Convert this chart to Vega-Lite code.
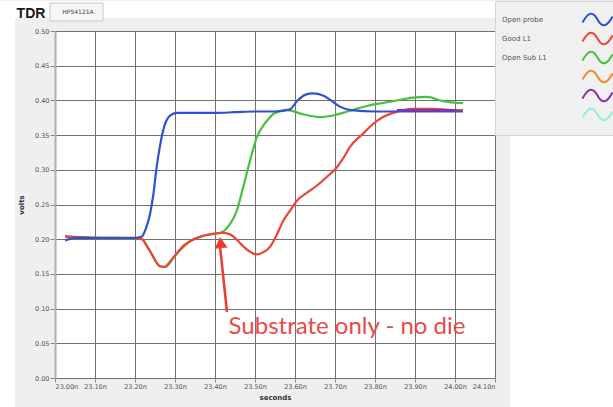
{
  "$schema": "https://vega.github.io/schema/vega-lite/v6.json",
  "width": 440,
  "height": 347,
  "padding": 0,
  "background": "#efefef",
  "config": {
    "view": {"fill": "white", "stroke": null},
    "font": "DejaVu Sans"
  },
  "data": {"values": [{}]},
  "datasets": {
    "traces": [
      {"series": "Open Sub L1", "t": 23.025, "v": 0.204},
      {"series": "Open Sub L1", "t": 23.10, "v": 0.202},
      {"series": "Open Sub L1", "t": 23.20, "v": 0.201},
      {"series": "Open Sub L1", "t": 23.217, "v": 0.200},
      {"series": "Open Sub L1", "t": 23.2375, "v": 0.183},
      {"series": "Open Sub L1", "t": 23.2625, "v": 0.161},
      {"series": "Open Sub L1", "t": 23.275, "v": 0.160},
      {"series": "Open Sub L1", "t": 23.304, "v": 0.179},
      {"series": "Open Sub L1", "t": 23.3375, "v": 0.197},
      {"series": "Open Sub L1", "t": 23.379, "v": 0.206},
      {"series": "Open Sub L1", "t": 23.4167, "v": 0.210},
      {"series": "Open Sub L1", "t": 23.4375, "v": 0.222},
      {"series": "Open Sub L1", "t": 23.454, "v": 0.240},
      {"series": "Open Sub L1", "t": 23.47, "v": 0.274},
      {"series": "Open Sub L1", "t": 23.4875, "v": 0.313},
      {"series": "Open Sub L1", "t": 23.504, "v": 0.346},
      {"series": "Open Sub L1", "t": 23.529, "v": 0.370},
      {"series": "Open Sub L1", "t": 23.55, "v": 0.382},
      {"series": "Open Sub L1", "t": 23.58, "v": 0.386},
      {"series": "Open Sub L1", "t": 23.62, "v": 0.380},
      {"series": "Open Sub L1", "t": 23.6625, "v": 0.376},
      {"series": "Open Sub L1", "t": 23.70, "v": 0.379},
      {"series": "Open Sub L1", "t": 23.72, "v": 0.382},
      {"series": "Open Sub L1", "t": 23.779, "v": 0.392},
      {"series": "Open Sub L1", "t": 23.8375, "v": 0.398},
      {"series": "Open Sub L1", "t": 23.895, "v": 0.404},
      {"series": "Open Sub L1", "t": 23.93, "v": 0.405},
      {"series": "Open Sub L1", "t": 23.97, "v": 0.399},
      {"series": "Open Sub L1", "t": 24.02, "v": 0.396},
      {"series": "Good L1", "t": 23.025, "v": 0.204},
      {"series": "Good L1", "t": 23.05, "v": 0.203},
      {"series": "Good L1", "t": 23.10, "v": 0.202},
      {"series": "Good L1", "t": 23.15, "v": 0.202},
      {"series": "Good L1", "t": 23.20, "v": 0.201},
      {"series": "Good L1", "t": 23.217, "v": 0.200},
      {"series": "Good L1", "t": 23.2275, "v": 0.192},
      {"series": "Good L1", "t": 23.2375, "v": 0.183},
      {"series": "Good L1", "t": 23.25, "v": 0.170},
      {"series": "Good L1", "t": 23.2625, "v": 0.161},
      {"series": "Good L1", "t": 23.275, "v": 0.160},
      {"series": "Good L1", "t": 23.2875, "v": 0.168},
      {"series": "Good L1", "t": 23.304, "v": 0.179},
      {"series": "Good L1", "t": 23.32, "v": 0.190},
      {"series": "Good L1", "t": 23.3375, "v": 0.197},
      {"series": "Good L1", "t": 23.36, "v": 0.203},
      {"series": "Good L1", "t": 23.379, "v": 0.206},
      {"series": "Good L1", "t": 23.40, "v": 0.208},
      {"series": "Good L1", "t": 23.4167, "v": 0.209},
      {"series": "Good L1", "t": 23.4375, "v": 0.207},
      {"series": "Good L1", "t": 23.455, "v": 0.199},
      {"series": "Good L1", "t": 23.47, "v": 0.190},
      {"series": "Good L1", "t": 23.49, "v": 0.181},
      {"series": "Good L1", "t": 23.504, "v": 0.178},
      {"series": "Good L1", "t": 23.52, "v": 0.181},
      {"series": "Good L1", "t": 23.5375, "v": 0.189},
      {"series": "Good L1", "t": 23.555, "v": 0.207},
      {"series": "Good L1", "t": 23.57, "v": 0.226},
      {"series": "Good L1", "t": 23.59, "v": 0.243},
      {"series": "Good L1", "t": 23.604, "v": 0.255},
      {"series": "Good L1", "t": 23.63, "v": 0.267},
      {"series": "Good L1", "t": 23.654, "v": 0.277},
      {"series": "Good L1", "t": 23.68, "v": 0.290},
      {"series": "Good L1", "t": 23.704, "v": 0.303},
      {"series": "Good L1", "t": 23.72, "v": 0.316},
      {"series": "Good L1", "t": 23.7375, "v": 0.333},
      {"series": "Good L1", "t": 23.77, "v": 0.352},
      {"series": "Good L1", "t": 23.795, "v": 0.366},
      {"series": "Good L1", "t": 23.82, "v": 0.376},
      {"series": "Good L1", "t": 23.845, "v": 0.382},
      {"series": "Good L1", "t": 23.87, "v": 0.386},
      {"series": "Good L1", "t": 23.895, "v": 0.388},
      {"series": "Good L1", "t": 23.945, "v": 0.388},
      {"series": "Good L1", "t": 23.995, "v": 0.386},
      {"series": "Good L1", "t": 24.02, "v": 0.386},
      {"series": "Open probe", "t": 23.025, "v": 0.198},
      {"series": "Open probe", "t": 23.05, "v": 0.202},
      {"series": "Open probe", "t": 23.10, "v": 0.202},
      {"series": "Open probe", "t": 23.15, "v": 0.202},
      {"series": "Open probe", "t": 23.20, "v": 0.202},
      {"series": "Open probe", "t": 23.217, "v": 0.204},
      {"series": "Open probe", "t": 23.2275, "v": 0.216},
      {"series": "Open probe", "t": 23.2375, "v": 0.236},
      {"series": "Open probe", "t": 23.246, "v": 0.265},
      {"series": "Open probe", "t": 23.254, "v": 0.303},
      {"series": "Open probe", "t": 23.262, "v": 0.333},
      {"series": "Open probe", "t": 23.27, "v": 0.356},
      {"series": "Open probe", "t": 23.2875, "v": 0.378},
      {"series": "Open probe", "t": 23.304, "v": 0.382},
      {"series": "Open probe", "t": 23.35, "v": 0.382},
      {"series": "Open probe", "t": 23.40, "v": 0.382},
      {"series": "Open probe", "t": 23.45, "v": 0.383},
      {"series": "Open probe", "t": 23.50, "v": 0.384},
      {"series": "Open probe", "t": 23.55, "v": 0.384},
      {"series": "Open probe", "t": 23.5875, "v": 0.387},
      {"series": "Open probe", "t": 23.605, "v": 0.399},
      {"series": "Open probe", "t": 23.625, "v": 0.408},
      {"series": "Open probe", "t": 23.645, "v": 0.410},
      {"series": "Open probe", "t": 23.67, "v": 0.407},
      {"series": "Open probe", "t": 23.69, "v": 0.400},
      {"series": "Open probe", "t": 23.7125, "v": 0.391},
      {"series": "Open probe", "t": 23.74, "v": 0.386},
      {"series": "Open probe", "t": 23.80, "v": 0.384},
      {"series": "Open probe", "t": 23.85, "v": 0.384},
      {"series": "Open probe", "t": 23.90, "v": 0.384},
      {"series": "Open probe", "t": 23.95, "v": 0.384},
      {"series": "Open probe", "t": 24.02, "v": 0.384},
      {"series": "Series 5", "t": 23.855, "v": 0.386},
      {"series": "Series 5", "t": 23.93, "v": 0.386},
      {"series": "Series 5", "t": 24.005, "v": 0.386}
    ]
  },
  "layer": [
    {
      "data": {"name": "traces"},
      "mark": {"type": "line", "strokeWidth": 2.2, "interpolate": "monotone"},
      "encoding": {
        "x": {
          "field": "t",
          "type": "quantitative",
          "scale": {"domain": [23.0, 24.1], "nice": false, "zero": false},
          "axis": {
            "title": "seconds",
            "grid": true,
            "labelOverlap": false,
            "tickCount": 40,
            "values": [23.0, 23.1, 23.2, 23.3, 23.4, 23.5, 23.6, 23.7, 23.8, 23.9, 24.0, 24.1],
            "labelExpr": "format(datum.value, '.2f') + 'n'",
            "labelFontSize": 6.5,
            "labelColor": "#555",
            "labelPadding": 1,
            "tickSize": 4,
            "tickColor": "#888",
            "domain": false,
            "gridColor": "#707070",
            "gridWidth": 1,
            "gridOpacity": 1,
            "titleFontSize": 7,
            "titleFontWeight": "bold",
            "titleColor": "#333",
            "titlePadding": 4
          }
        },
        "y": {
          "field": "v",
          "type": "quantitative",
          "scale": {"domain": [0, 0.5], "nice": false, "zero": false},
          "axis": {
            "title": "volts",
            "grid": true,
            "labelOverlap": false,
            "tickCount": 40,
            "values": [0, 0.05, 0.1, 0.15, 0.2, 0.25, 0.3, 0.35, 0.4, 0.45, 0.5],
            "format": ".2f",
            "labelFontSize": 6.5,
            "labelColor": "#555",
            "labelPadding": 1,
            "tickSize": 5,
            "tickColor": "#888",
            "domainColor": "#b0b0b0",
            "domainWidth": 2,
            "gridColor": "#707070",
            "gridWidth": 1,
            "gridOpacity": 1,
            "titleFontSize": 7,
            "titleFontWeight": "bold",
            "titleColor": "#333",
            "titlePadding": 10
          }
        },
        "color": {
          "field": "series",
          "type": "nominal",
          "scale": {
            "domain": ["Open probe", "Good L1", "Open Sub L1", "Series 4", "Series 5", "Series 6"],
            "range": ["#3050d4", "#ee4436", "#46c03e", "#f08a2c", "#8a30a8", "#8ff0dc"]
          },
          "legend": {
            "title": null,
            "orient": "none",
            "legendX": 440,
            "legendY": -30,
            "padding": 10,
            "fillColor": "#f0f0f0",
            "strokeColor": "#d4d4d4",
            "symbolType": "M-2,0.4C-1.2,-1.1 -0.6,-1.1 0,0 C0.6,1.1 1.2,1.1 2,-0.4",
            "symbolSize": 225,
            "symbolStrokeWidth": 2,
            "symbolFillColor": "transparent",
            "symbolOffset": 84,
            "labelOffset": -104,
            "labelAlign": "left",
            "labelFontSize": 7,
            "labelColor": "#555",
            "rowPadding": -3.5,
            "labelExpr": "indexof(datum.label, 'Series') == 0 ? '' : datum.label"
          }
        }
      }
    },
    {
      "mark": {"type": "rect", "fill": "white", "clip": false},
      "encoding": {
        "x": {"datum": 22.8625, "type": "quantitative"},
        "x2": {"datum": 24.4325},
        "y": {"datum": 0.5187, "type": "quantitative"},
        "y2": {"datum": 0.5432}
      }
    },
    {
      "mark": {"type": "rect", "fill": "white", "clip": false},
      "encoding": {
        "x": {"datum": 22.8625, "type": "quantitative"},
        "x2": {"datum": 22.9},
        "y": {"datum": -0.0432, "type": "quantitative"},
        "y2": {"datum": 0.5432}
      }
    },
    {
      "mark": {"type": "rect", "fill": "white", "clip": false},
      "encoding": {
        "x": {"datum": 24.1375, "type": "quantitative"},
        "x2": {"datum": 24.4325},
        "y": {"datum": -0.0432, "type": "quantitative"},
        "y2": {"datum": 0.5432}
      }
    },
    {
      "mark": {"type": "rect", "fill": "#f6f6f6", "stroke": "#c8c8c8", "strokeWidth": 1, "clip": false},
      "encoding": {
        "x": {"datum": 22.9875, "type": "quantitative"},
        "x2": {"datum": 23.12},
        "y": {"datum": 0.5144, "type": "quantitative"},
        "y2": {"datum": 0.5403}
      }
    },
    {
      "mark": {"type": "text", "text": "TDR", "fontSize": 14, "fontWeight": "bold", "font": "Liberation Sans", "color": "#1a1a1a", "baseline": "alphabetic", "align": "center", "clip": false},
      "encoding": {
        "x": {"datum": 22.94, "type": "quantitative"},
        "y": {"datum": 0.5187, "type": "quantitative"}
      }
    },
    {
      "mark": {"type": "text", "text": "HP54121A", "fontSize": 6, "color": "#444", "baseline": "middle", "align": "center", "clip": false},
      "encoding": {
        "x": {"datum": 23.0575, "type": "quantitative"},
        "y": {"datum": 0.527, "type": "quantitative"}
      }
    },
    {
      "mark": {"type": "rule", "color": "#f03a30", "strokeWidth": 2.5},
      "encoding": {
        "x": {"datum": 23.43, "type": "quantitative"},
        "y": {"datum": 0.0951, "type": "quantitative"},
        "x2": {"datum": 23.4125},
        "y2": {"datum": 0.19}
      }
    },
    {
      "mark": {"type": "point", "shape": "triangle-up", "filled": true, "color": "#f03a30", "size": 170, "opacity": 1, "angle": -6},
      "encoding": {
        "x": {"datum": 23.414, "type": "quantitative"},
        "y": {"datum": 0.1952, "type": "quantitative"}
      }
    },
    {
      "mark": {"type": "text", "text": "Substrate only - no die", "font": "Lato", "fontSize": 24, "color": "#e84a44", "align": "center", "baseline": "alphabetic"},
      "encoding": {
        "x": {"datum": 23.73, "type": "quantitative"},
        "y": {"datum": 0.0634, "type": "quantitative"}
      }
    }
  ]
}
